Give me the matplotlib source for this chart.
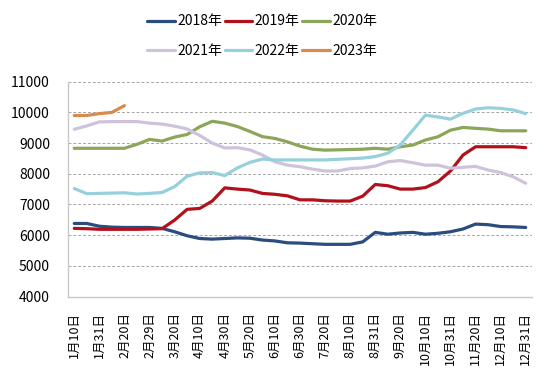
import matplotlib
matplotlib.use("Agg")
import matplotlib.pyplot as plt

plt.rcParams['font.family'] = ['Noto Sans CJK SC', 'DejaVu Sans']

dates = ['1月10日', '1月20日', '1月31日', '2月10日', '2月20日', '2月28日', '2月29日',
         '3月10日', '3月20日', '3月31日', '4月10日', '4月20日', '4月30日', '5月10日',
         '5月20日', '5月31日', '6月10日', '6月20日', '6月30日', '7月10日', '7月20日',
         '7月31日', '8月10日', '8月20日', '8月31日', '9月10日', '9月20日', '9月30日',
         '10月10日', '10月20日', '10月31日', '11月10日', '11月20日', '11月30日',
         '12月10日', '12月20日', '12月31日']

y2018 = [6380, 6380, 6290, 6260, 6250, 6250, 6250, 6220, 6110, 5980, 5890, 5870, 5890,
         5910, 5900, 5840, 5810, 5750, 5740, 5720, 5700, 5700, 5700, 5780, 6090, 6030,
         6070, 6090, 6030, 6060, 6110, 6200, 6360, 6340, 6280, 6270, 6250]
y2019 = [6220, 6210, 6190, 6190, 6190, 6190, 6200, 6210, 6490, 6840, 6870, 7110, 7540,
         7500, 7470, 7360, 7330, 7280, 7150, 7150, 7120, 7110, 7110, 7270, 7650, 7610,
         7500, 7500, 7550, 7740, 8090, 8610, 8880, 8880, 8880, 8880, 8850]
y2020 = [8830, 8830, 8830, 8830, 8830, 8960, 9120, 9065, 9195, 9280, 9530, 9710, 9650,
         9540, 9380, 9210, 9150, 9040, 8900, 8800, 8770, 8780, 8790, 8800, 8830, 8800,
         8880, 8935, 9100, 9205, 9420, 9510, 9480, 9455, 9400, 9400, 9400]
y2021 = [9450, 9560, 9690, 9700, 9700, 9700, 9650, 9620, 9550, 9460, 9250, 9000, 8840,
         8850, 8780, 8610, 8390, 8280, 8230, 8150, 8090, 8090, 8170, 8190, 8250, 8390,
         8430, 8360, 8280, 8280, 8180, 8210, 8240, 8120, 8040, 7900, 7690]
y2022 = [7520, 7350, 7360, 7370, 7380, 7340, 7360, 7390, 7580, 7920, 8030, 8040, 7940,
         8190, 8370, 8480, 8450, 8450, 8450, 8450, 8450, 8470, 8490, 8510, 8560, 8670,
         8940, 9420, 9910, 9850, 9780, 9970, 10110, 10150, 10130, 10080, 9960]
y2023 = [9900, 9900, 9960, 10000, 10220]

series = [
    ('2018年', y2018, '#2B4C7E'),
    ('2019年', y2019, '#B0111B'),
    ('2020年', y2020, '#8BA65A'),
    ('2021年', y2021, '#CFC3DC'),
    ('2022年', y2022, '#97D0DD'),
    ('2023年', y2023, '#D98B4E'),
]

fig = plt.figure(figsize=(5.5, 3.82), dpi=100)
ax = fig.add_axes([68/550, 1-296.5/382, 464/550, (296.5-81.7)/382])

x_all = list(range(len(dates)))
for label, vals, color in series:
    ax.plot(x_all[:len(vals)], vals, color=color, lw=2.3, label=label,
            solid_joinstyle='round', solid_capstyle='round')

ax.set_xlim(-0.5, len(dates) - 0.5)
ax.set_ylim(4000, 11000)
ax.set_yticks(range(4000, 11001, 1000))
ax.set_xticks(x_all[::2])
ax.set_xticklabels(dates[::2], rotation=90, fontsize=9)
ax.tick_params(axis='y', labelsize=10, length=0, pad=13)
ax.tick_params(axis='x', length=0, pad=11)

for yv in range(5000, 11001, 1000):
    ax.axhline(yv, color='#A6A6A6', lw=0.7, ls=(0, (3, 2)), zorder=0)

for side in ['top', 'right']:
    ax.spines[side].set_visible(False)
ax.spines['left'].set_color('#C8C8C8')
ax.spines['bottom'].set_color('#C8C8C8')
ax.spines['left'].set_linewidth(1.0)
ax.spines['bottom'].set_linewidth(1.0)

handles, labels = ax.get_legend_handles_labels()
order = [0, 3, 1, 4, 2, 5]
fig.legend([handles[i] for i in order], [labels[i] for i in order],
           loc='center', bbox_to_anchor=(262/550, 1-36/382),
           ncol=3, frameon=False, fontsize=10, handlelength=2.0,
           handletextpad=0.15, columnspacing=0.2, labelspacing=1.1)

fig.savefig('out.png', dpi=100, facecolor='white')
